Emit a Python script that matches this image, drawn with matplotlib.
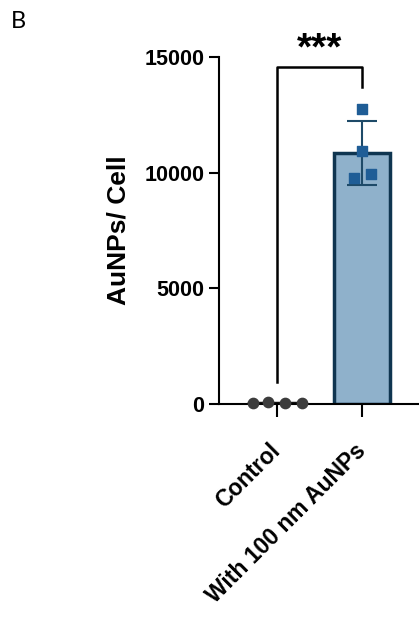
import matplotlib.pyplot as plt
import numpy as np

plt.rcParams['font.family'] = ['Liberation Sans', 'DejaVu Sans']

groups = ['Control', 'With 100 nm AuNPs']
control_pts = [60, 80, 70, 65]
aunp_pts = [12750, 10930, 9770, 9940]
yticks = [0, 5000, 10000, 15000]
sig_label = '***'

means = [np.mean(control_pts), np.mean(aunp_pts)]
sds = [np.std(control_pts, ddof=1), np.std(aunp_pts, ddof=1)]

fig = plt.figure(figsize=(4.19, 6.19), dpi=100)
ax = fig.add_axes([0.523, 0.347, 0.477, 0.561])

x = np.arange(len(groups))
ax.bar(x, means, width=0.65, color=['#222222', '#8fb1cb'],
       edgecolor=['#111111', '#0f3550'], linewidth=2.5, zorder=2)
ax.errorbar(x[1], means[1], yerr=sds[1], color='#1e4a68', capsize=10.5,
            capthick=1.5, elinewidth=1.5, zorder=3)

# individual points
ctrl_x = x[0] + np.array([-0.28, -0.1, 0.1, 0.29])
ax.scatter(ctrl_x, control_pts, s=55, color='#3c3c3c', zorder=4, clip_on=False)
aunp_x = x[1] + np.array([0.0, 0.0, -0.1, 0.1])
ax.scatter(aunp_x, aunp_pts, s=55, marker='s', color='#1f5d96', zorder=4)

ax.set_xlim(-0.68, 1.67)
ax.set_ylim(0, 15000)
ax.set_yticks(yticks)
ax.set_yticklabels([str(t) for t in yticks], fontsize=15.5, fontweight='bold')
ax.set_xticks(x)
ax.set_xticklabels(groups, rotation=45, ha='right', va='center',
                   rotation_mode='anchor', fontsize=16.5, fontweight='bold')
ax.set_ylabel('AuNPs/ Cell', fontsize=19, fontweight='bold', labelpad=10)

for s in ['top', 'right']:
    ax.spines[s].set_visible(False)
ax.spines['left'].set_linewidth(1.5)
ax.spines['bottom'].set_linewidth(1.5)
ax.tick_params(axis='y', width=1.5, length=7)
ax.tick_params(axis='x', width=1.5, length=9, pad=22)

# significance bracket
ax.plot([x[0], x[0], x[1], x[1]], [950, 14560, 14560, 13700],
        color='black', linewidth=1.8, clip_on=False)
ax.text((x[0] + x[1]) / 2 + 0.0, 14560, sig_label, ha='center', va='bottom',
        fontsize=28, fontweight='bold')

fig.text(0.025, 0.982, 'B', fontsize=17, va='top', ha='left',
         family=['Lato', 'DejaVu Sans'])

fig.savefig('out.png', dpi=100)
